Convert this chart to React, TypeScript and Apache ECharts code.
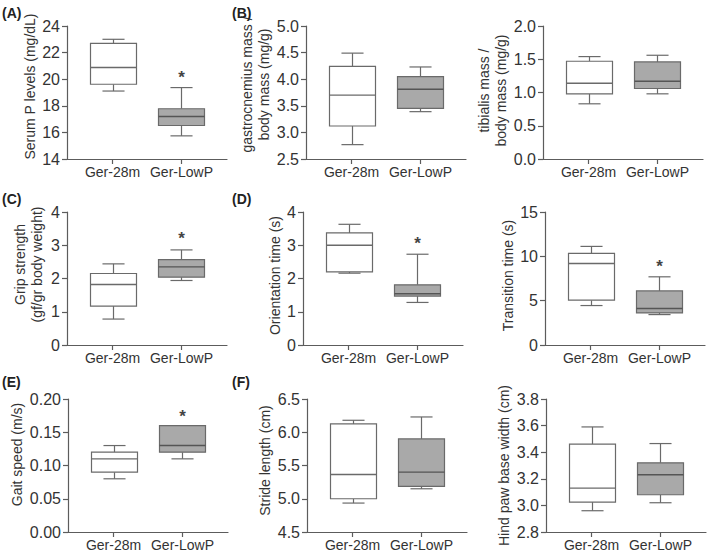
import React, { useEffect, useRef } from 'react';
import * as echarts from 'echarts';

const categories = ['Ger-28m', 'Ger-LowP'];

// each box: [min, Q1, median, Q3, max]
const serumP28m = [19.11, 19.62, 20.88, 22.7, 23.0];
const serumPLowP = [15.74, 16.52, 17.2, 17.78, 19.37];
const gastro28m = [2.77, 3.12, 3.7, 4.24, 4.49];
const gastroLowP = [3.39, 3.45, 3.81, 4.05, 4.23];
const tibialis28m = [0.83, 0.98, 1.14, 1.47, 1.54];
const tibialisLowP = [0.98, 1.06, 1.17, 1.46, 1.56];
const grip28m = [0.78, 1.17, 1.82, 2.15, 2.44];
const gripLowP = [1.94, 2.04, 2.35, 2.57, 2.86];
const orient28m = [2.16, 2.2, 3.0, 3.37, 3.63];
const orientLowP = [1.28, 1.47, 1.54, 1.81, 2.73];
const trans28m = [4.45, 5.05, 9.2, 10.33, 11.12];
const transLowP = [3.43, 3.62, 4.11, 6.1, 7.69];
const gait28m = [0.08, 0.09, 0.11, 0.12, 0.13];
const gaitLowP = [0.11, 0.12, 0.13, 0.16, 0.16];
const stride28m = [4.935, 5.0, 5.365, 6.125, 6.18];
const strideLowP = [5.15, 5.185, 5.4, 5.9, 6.23];
const hind28m = [2.96, 3.025, 3.13, 3.46, 3.59];
const hindLowP = [3.02, 3.08, 3.23, 3.32, 3.465];

// significance asterisks: [group position, y value]
const serumPStar = [2, 20.1];
const gripStar = [2, 3.2];
const orientStar = [2, 3.04];
const transStar = [2, 8.9];
const gaitStar = [2, 0.174];

// y axis ranges: [min, max, interval, decimals]
const serumPAxis = [14, 24, 2, 0];
const gastroAxis = [2.5, 5.0, 0.5, 1];
const tibialisAxis = [0, 2.0, 0.5, 1];
const gripAxis = [0, 4, 1, 0];
const orientAxis = [0, 4, 1, 0];
const transAxis = [0, 15, 5, 0];
const gaitAxis = [0, 0.2, 0.05, 2];
const strideAxis = [4.5, 6.5, 0.5, 1];
const hindAxis = [2.8, 3.8, 0.2, 1];

const panelLetters = ['(A)', '(B)', '(C)', '(D)', '(E)', '(F)'];

const FONT = '"Liberation Sans", Arial, Helvetica, sans-serif';
const TEXT = '#333333';
const AXIS = '#5c5c5c';
const BOX_STROKE = '#6a6a6a';
const FILLS = ['#ffffff', '#a9a9a9'];
const BOX_W = 0.667;
const CAP_W = 0.32;

const panels = [
  { name: 'Serum P levels (mg/dL)', boxes: [serumP28m, serumPLowP], axis: serumPAxis, star: serumPStar, left: 67, top: 26, gap: 27, shift: 6 },
  { name: 'gastrocnemius mass /\nbody mass (mg/g)', boxes: [gastro28m, gastroLowP], axis: gastroAxis, star: null, left: 306, top: 26, gap: 29, shift: 8 },
  { name: 'tibialis mass /\nbody mass (mg/g)', boxes: [tibialis28m, tibialisLowP], axis: tibialisAxis, star: null, left: 543, top: 26, gap: 28, shift: 2 },
  { name: 'Grip strength\n(gf/gr body weight)', boxes: [grip28m, gripLowP], axis: gripAxis, star: gripStar, left: 67, top: 212, gap: 22, shift: 14 },
  { name: 'Orientation time (s)', boxes: [orient28m, orientLowP], axis: orientAxis, star: orientStar, left: 303, top: 212, gap: 19, shift: 3 },
  { name: 'Transition time (s)', boxes: [trans28m, transLowP], axis: transAxis, star: transStar, left: 545, top: 212, gap: 27, shift: 3 },
  { name: 'Gait speed (m/s)', boxes: [gait28m, gaitLowP], axis: gaitAxis, star: gaitStar, left: 68, top: 399, gap: 42, shift: 11 },
  { name: 'Stride length (cm)', boxes: [stride28m, strideLowP], axis: strideAxis, star: null, left: 307, top: 399, gap: 31, shift: 5 },
  { name: 'Hind paw base width (cm)', boxes: [hind28m, hindLowP], axis: hindAxis, star: null, left: 546, top: 399, gap: 32, shift: 0 },
];

const letterPos = [
  [2, 6], [232, 6], [2, 192], [232, 192], [2, 375], [232, 375],
];

function renderBox(params: any, api: any) {
  const x = api.value(0);
  const pMin = api.coord([x, api.value(1)]);
  const pQ1 = api.coord([x, api.value(2)]);
  const pMed = api.coord([x, api.value(3)]);
  const pQ3 = api.coord([x, api.value(4)]);
  const pMax = api.coord([x, api.value(5)]);
  const bw = api.size([BOX_W, 0])[0];
  const cw = api.size([CAP_W, 0])[0];
  const cx = Math.round(pMin[0]) + 0.5;
  const fill = FILLS[params.dataIndex];
  const ls = { stroke: BOX_STROKE, lineWidth: 1.2, fill: null };
  const children: any[] = [];
  if (Math.abs(pMax[1] - pQ3[1]) > 0.5) {
    children.push({ type: 'line', shape: { x1: cx, y1: pQ3[1], x2: cx, y2: pMax[1] }, style: ls });
    children.push({ type: 'line', shape: { x1: cx - cw / 2, y1: pMax[1], x2: cx + cw / 2, y2: pMax[1] }, style: ls });
  }
  if (Math.abs(pMin[1] - pQ1[1]) > 0.5) {
    children.push({ type: 'line', shape: { x1: cx, y1: pQ1[1], x2: cx, y2: pMin[1] }, style: ls });
    children.push({ type: 'line', shape: { x1: cx - cw / 2, y1: pMin[1], x2: cx + cw / 2, y2: pMin[1] }, style: ls });
  }
  children.push({
    type: 'rect',
    shape: { x: cx - bw / 2, y: pQ3[1], width: bw, height: pQ1[1] - pQ3[1] },
    style: { fill, stroke: BOX_STROKE, lineWidth: 1.2 },
  });
  children.push({
    type: 'line',
    shape: { x1: cx - bw / 2, y1: pMed[1], x2: cx + bw / 2, y2: pMed[1] },
    style: { stroke: params.dataIndex === 1 ? '#555555' : BOX_STROKE, lineWidth: 1.4 },
  });
  return { type: 'group', children };
}

function renderStar(params: any, api: any) {
  const p = api.coord([api.value(0), api.value(1)]);
  return {
    type: 'text',
    x: p[0],
    y: p[1],
    style: { text: '*', fontSize: 17, fontWeight: 'bold', fontFamily: FONT, fill: '#444444', align: 'center', verticalAlign: 'middle' },
  };
}

function buildOption() {
  const grid: any[] = [];
  const xAxis: any[] = [];
  const yAxis: any[] = [];
  const series: any[] = [];
  panels.forEach((p, i) => {
    grid.push({ left: p.left, top: p.top, width: 160, height: 133, containLabel: false });
    xAxis.push({
      type: 'value',
      gridIndex: i,
      min: 0.34,
      max: 2.66,
      splitLine: { show: false },
      axisLine: { show: true, lineStyle: { color: AXIS, width: 1.2 } },
      axisTick: { show: true, length: 5, customValues: [1, 2], lineStyle: { color: AXIS, width: 1.2 } },
      axisLabel: {
        show: true,
        customValues: [1, 2],
        formatter: (v: number) => categories[Math.round(v) - 1] || '',
        fontSize: 14,
        fontFamily: FONT,
        color: TEXT,
        margin: 6,
      },
    });
    const [mn, mx, iv, dec] = p.axis as number[];
    yAxis.push({
      type: 'value',
      gridIndex: i,
      min: mn,
      max: mx,
      interval: iv,
      name: p.name,
      nameLocation: 'middle',
      nameGap: p.gap,
      nameTextStyle: { fontSize: 14, fontFamily: FONT, color: TEXT, lineHeight: 17, padding: [0, 0, 0, p.shift * 2] },
      splitLine: { show: false },
      axisLine: { show: true, lineStyle: { color: AXIS, width: 1.2 } },
      axisTick: { show: true, length: 5, lineStyle: { color: AXIS, width: 1.2 } },
      axisLabel: {
        fontSize: 16,
        fontFamily: FONT,
        color: TEXT,
        margin: 7,
        formatter: (v: number) => v.toFixed(dec),
      },
    });
    series.push({
      type: 'custom',
      xAxisIndex: i,
      yAxisIndex: i,
      renderItem: renderBox,
      encode: { x: 0, y: [1, 2, 3, 4, 5] },
      data: p.boxes.map((b, k) => [k + 1, ...b]),
      clip: false,
    });
    if (p.star) {
      series.push({
        type: 'custom',
        xAxisIndex: i,
        yAxisIndex: i,
        renderItem: renderStar,
        encode: { x: 0, y: 1 },
        data: [p.star],
        clip: false,
      });
    }
  });
  const title = panelLetters.map((t, i) => ({
    text: t,
    left: letterPos[i][0],
    top: letterPos[i][1],
    padding: 0,
    textStyle: { fontSize: 14, fontWeight: 'bold', fontFamily: FONT, color: '#222222' },
  }));
  return { animation: false, backgroundColor: '#ffffff', title, grid, xAxis, yAxis, series };
}

export default function App() {
  const ref = useRef<HTMLDivElement>(null);
  useEffect(() => {
    if (!ref.current) return;
    const chart = echarts.init(ref.current, undefined, { renderer: 'svg' });
    chart.setOption(buildOption() as any);
    return () => chart.dispose();
  }, []);
  return <div ref={ref} style={{ width: 709, height: 554, position: 'absolute', left: 0, top: 0 }} />;
}
